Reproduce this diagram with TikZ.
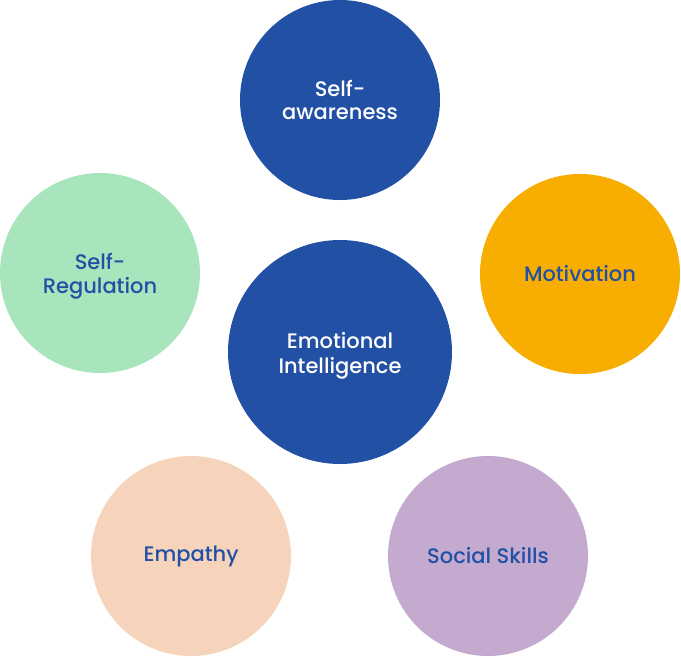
\documentclass[tikz,border=0pt]{standalone}
\usepackage{fontspec}
\setmainfont{Poppins Medium}
\definecolor{eiblue}{HTML}{2150A5}
\definecolor{eiyellow}{HTML}{F8AE00}
\definecolor{eigreen}{HTML}{A8E4BC}
\definecolor{eipeach}{HTML}{F6D4BC}
\definecolor{eililac}{HTML}{C3AACE}
\tikzset{
  bubbletext/.style={inner sep=0pt, align=center,
    font=\fontsize{21}{23.5}\selectfont, text=eiblue},
}
\begin{document}
\begin{tikzpicture}[x=1pt,y=-1pt]
        % Fix the page size
        \useasboundingbox (0,0) rectangle (681,657);
        
        % The centre circle
        \fill[eiblue] (340,352) circle(112);
        \node[bubbletext, text=white, font=\fontsize{21}{25}\selectfont] (ei) at (340,356) {Emotional\\Intelligence};
        
        % The five circles around it
        \fill[eiblue] (340,100) circle(100);
        \fill[eiyellow] (580,274) circle(100);
        \fill[eigreen] (100,273) circle(100);
        \fill[eipeach] (191,556) circle(100);
        \fill[eililac] (488,556) circle(100);
        
        % Label the circles
        \node[bubbletext, text=white] (aware) at (340,100) {Self-\\awareness};
        \node[bubbletext] (motiv) at (580,274) {Motivation};
        \node[bubbletext] (regul) at (100,276) {Self-\\Regulation};
        \node[bubbletext] (empathy) at (191,556) {Empathy};
        \node[bubbletext] (social) at (488,556) {Social Skills};
    \end{tikzpicture}
\end{document}
